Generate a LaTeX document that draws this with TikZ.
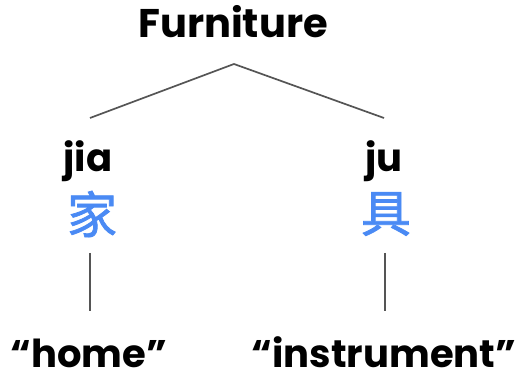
\documentclass[tikz,border=0pt]{standalone}
\usepackage{fontspec}
\setmainfont{Poppins}
\newfontfamily\cjk{Noto Sans CJK SC}[FakeBold=1.5]
\definecolor{linegray}{HTML}{555555}
\definecolor{hanblue}{HTML}{4A8AF4}
\tikzset{
  word/.style={font=\fontsize{38.5}{41}\selectfont\bfseries, inner sep=0pt, anchor=base, text depth=0pt},
  han/.style={font=\cjk\fontsize{50}{52}\selectfont, text=hanblue, inner sep=0pt, anchor=center},
  link/.style={draw=linegray, line width=1.7pt}
}
\begin{document}
\begin{tikzpicture}[x=1pt,y=-1pt]
\useasboundingbox (0,0) rectangle (515,374);
\node[word, font=\fontsize{40}{42}\selectfont\bfseries] (furn) at (233,37.5) {Furniture};
\node[word] (jia) at (88,172) {jia};
\node[word] (ju) at (384,172) {ju};
\node[han] (jiahan) at (92,214) {家};
\node[han] (juhan) at (386,214) {具};
\node[word] (home) at (89,368) {“home”};
\node[word] (instr) at (384,368) {“instrument”};
\coordinate (apex) at (234,64);
\coordinate (lend) at (90,118);
\coordinate (rend) at (384,118);
\coordinate (lt) at (90,253);
\coordinate (lb) at (90,311);
\coordinate (rt) at (385,253);
\coordinate (rb) at (385,311);
\draw[link] (lend) -- (apex) -- (rend);
\draw[link] (lt) -- (lb);
\draw[link] (rt) -- (rb);
\end{tikzpicture}
\end{document}
